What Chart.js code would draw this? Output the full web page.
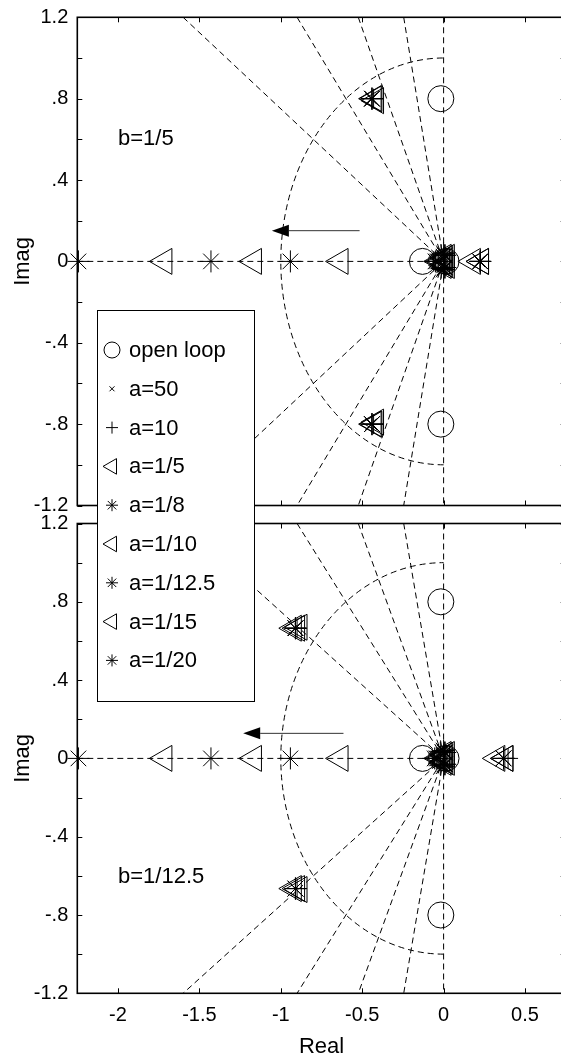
<!DOCTYPE html>
<html>
<head>
<meta charset="utf-8">
<script src="https://cdn.jsdelivr.net/npm/chart.js@4"></script>
<style>
  html, body { margin: 0; padding: 0; background: #fff; overflow: hidden; }
  #wrap { position: relative; width: 561px; height: 1061px; overflow: hidden; }
  .panel { position: absolute; left: 0; width: 570px; }
  #topPanel { top: 0; height: 514px; }
  #bottomPanel { top: 514px; height: 547px; }
  canvas { display: block; }
</style>
</head>
<body>
<div id="wrap">
  <div class="panel" id="topPanel"><canvas id="topChart" width="570" height="514" style="width:570px;height:514px"></canvas></div>
  <div class="panel" id="bottomPanel"><canvas id="bottomChart" width="570" height="547" style="width:570px;height:547px"></canvas></div>
</div>
<script>
// --- DATA ---
const xRange = [-2.25, 0.75];
const yRange = [-1.2, 1.2];
const xTicks = [-2, -1.5, -1, -0.5, 0, 0.5];
const xTickLabels = ['-2', '-1.5', '-1', '-0.5', '0', '0.5'];
const yTicks = [-1.2, -1, -0.8, -0.6, -0.4, -0.2, 0, 0.2, 0.4, 0.6, 0.8, 1, 1.2];
const yTickLabels = ['-1.2', '', '-.8', '', '-.4', '', '0', '', '.4', '', '.8', '', '1.2'];

const seriesNames = ['open loop', 'a=50', 'a=10', 'a=1/5', 'a=1/8', 'a=1/10', 'a=1/12.5', 'a=1/15', 'a=1/20'];

// s-plane grid: damping lines end at imag = +-1.2 at these real parts, wn circle radius 1
const dampingEndX = [-1.6, -0.9, -0.524, -0.245, 0];
const wnRadius = 1;

// top panel, b=1/5   [real, imag]
const topOpenLoop = [[-0.017, 0.8], [-0.017, -0.8], [-0.13, 0], [0.015, 0]];
const topA50   = [[-0.445, 0.80], [-0.445, -0.80], [0.22, 0], [-0.05, 0], [-0.01, 0.03], [-0.01, -0.03]];
const topA10   = [[-0.43, 0.80], [-0.43, -0.80], [0.225, 0], [-0.06, 0], [-0.015, 0.035], [-0.015, -0.035]];
const topA1_5  = [[-0.415, 0.79], [-0.415, -0.79], [0.18, 0], [-0.633, 0], [-0.03, 0], [0.0, 0.02], [0.0, -0.02]];
const topA1_8  = [[-0.44, 0.80], [-0.44, -0.80], [0.225, 0], [-0.941, 0], [-0.04, 0], [0.005, 0.03], [0.005, -0.03]];
const topA1_10 = [[-0.425, 0.80], [-0.425, -0.80], [0.23, 0], [-1.165, 0], [-0.02, 0], [0.01, 0.015], [0.01, -0.015]];
const topA1_12 = [[-0.44, 0.80], [-0.44, -0.80], [0.225, 0], [-1.429, 0], [-0.05, 0], [0.0, 0.04], [0.0, -0.04]];
const topA1_15 = [[-0.43, 0.80], [-0.43, -0.80], [0.23, 0], [-1.715, 0], [-0.01, 0], [0.02, 0.02], [0.02, -0.02]];
const topA1_20 = [[-0.44, 0.80], [-0.44, -0.80], [0.225, 0], [-2.243, 0], [-0.03, 0], [0.01, 0.03], [0.01, -0.03]];

// bottom panel, b=1/12.5
const botOpenLoop = [[-0.017, 0.8], [-0.017, -0.8], [-0.13, 0], [0.015, 0]];
const botA50   = [[-0.91, 0.665], [-0.91, -0.665], [0.37, 0], [-0.06, 0], [-0.01, 0.03], [-0.01, -0.03]];
const botA10   = [[-0.90, 0.665], [-0.90, -0.665], [0.396, 0], [-0.07, 0], [-0.02, 0.035], [-0.02, -0.035]];
const botA1_5  = [[-0.885, 0.67], [-0.885, -0.67], [0.33, 0], [-0.633, 0], [-0.03, 0], [0.0, 0.02], [0.0, -0.02]];
const botA1_8  = [[-0.91, 0.665], [-0.91, -0.665], [0.368, 0], [-0.941, 0], [-0.045, 0], [0.005, 0.03], [0.005, -0.03]];
const botA1_10 = [[-0.90, 0.665], [-0.90, -0.665], [0.38, 0], [-1.165, 0], [-0.02, 0], [0.01, 0.015], [0.01, -0.015]];
const botA1_12 = [[-0.91, 0.665], [-0.91, -0.665], [0.368, 0], [-1.429, 0], [-0.055, 0], [0.0, 0.04], [0.0, -0.04]];
const botA1_15 = [[-0.92, 0.665], [-0.92, -0.665], [0.38, 0], [-1.715, 0], [-0.01, 0], [0.02, 0.02], [0.02, -0.02]];
const botA1_20 = [[-0.91, 0.665], [-0.91, -0.665], [0.368, 0], [-2.243, 0], [-0.035, 0], [0.01, 0.03], [0.01, -0.03]];

// annotations
const topNote = 'b=1/5';
const topNoteAt = [-2.0, 0.6];
const topArrow = [[-0.516, 0.151], [-1.055, 0.151]];
const botNote = 'b=1/12.5';
const botNoteAt = [-2.0, -0.604];
const botArrow = [[-0.615, 0.128], [-1.231, 0.128]];

// --- STYLE ---
const FONT = "'Liberation Sans', Arial, Helvetica, sans-serif";
Chart.defaults.font.family = FONT;
Chart.defaults.color = '#000';

const markerStyles = [
    { style: 'circle',   r: 13, lr: 8 },
    { style: 'crossRot', r: 8,  lr: 3.5 },
    { style: 'cross',    r: 10, lr: 6 },
    { style: 'triangle', r: 15, lr: 9, rot: -90 },
    { style: 'star',     r: 11, lr: 6 },
    { style: 'triangle', r: 15, lr: 9, rot: -90 },
    { style: 'star',     r: 11, lr: 6 },
    { style: 'triangle', r: 15, lr: 9, rot: -90 },
    { style: 'star',     r: 11, lr: 6 }
];
const DASH = [6, 4];

// legend box is in page coordinates, shared by both canvases
const LEGEND = { left: 97.5, top: 310.5, right: 254.5, bottom: 701.5, markerX: 112, textX: 129, rowTop: 350, rowStep: 38.8 };

// --- PLUGINS ---
// pin the plot box to the same place the reference uses
const areaPlugin = {
    id: 'fixedArea',
    afterLayout(chart, args, opts) {
        const ca = chart.chartArea;
        ca.left = opts.left; ca.right = opts.right; ca.top = opts.top; ca.bottom = opts.bottom;
        ca.width = ca.right - ca.left; ca.height = ca.bottom - ca.top;
        const { x, y } = chart.scales;
        x.left = ca.left; x.right = ca.right; x.width = ca.width;
        x.top = ca.bottom; x.bottom = chart.height; x.height = x.bottom - x.top;
        y.left = 0; y.right = ca.left; y.width = ca.left;
        y.top = ca.top; y.bottom = ca.bottom; y.height = ca.height;
        x.configure();
        y.configure();
    }
};

const sgridPlugin = {
    id: 'sgrid',
    beforeDatasetsDraw(chart) {
        const { ctx, chartArea: a, scales: { x, y } } = chart;
        const cx = x.getPixelForValue(0), cy = y.getPixelForValue(0);
        const rx = x.getPixelForValue(wnRadius) - cx;
        const ry = cy - y.getPixelForValue(wnRadius);
        ctx.save();
        ctx.beginPath();
        ctx.rect(a.left, a.top, a.right - a.left, a.bottom - a.top);
        ctx.clip();
        ctx.setLineDash(DASH);
        ctx.lineWidth = 1;
        ctx.strokeStyle = '#000';
        ctx.beginPath();
        ctx.ellipse(cx, cy, rx, ry, 0, Math.PI / 2, Math.PI * 1.5);
        ctx.stroke();
        ctx.restore();
    }
};

const framePlugin = {
    id: 'frame',
    afterDatasetsDraw(chart) {
        const { ctx, chartArea: a, scales: { x, y } } = chart;
        const tl = 5;
        ctx.save();
        ctx.strokeStyle = '#000';
        ctx.lineWidth = 1;
        ctx.beginPath();
        xTicks.forEach(v => {
            const px = Math.round(x.getPixelForValue(v)) + 0.5;
            ctx.moveTo(px, a.bottom); ctx.lineTo(px, a.bottom - tl);
            ctx.moveTo(px, a.top); ctx.lineTo(px, a.top + tl);
        });
        yTicks.forEach(v => {
            const py = Math.round(y.getPixelForValue(v)) + 0.5;
            ctx.moveTo(a.left, py); ctx.lineTo(a.left + tl, py);
            ctx.moveTo(a.right, py); ctx.lineTo(a.right - tl, py);
        });
        ctx.stroke();
        ctx.lineWidth = 1.6;
        ctx.strokeRect(a.left, a.top, a.right - a.left, a.bottom - a.top);
        ctx.restore();
    }
};

const notesPlugin = {
    id: 'notes',
    afterDatasetsDraw(chart, args, opts) {
        const { ctx, scales: { x, y } } = chart;
        ctx.save();
        ctx.fillStyle = '#000';
        ctx.font = '22px ' + FONT;
        ctx.textAlign = 'left';
        ctx.textBaseline = 'middle';
        ctx.fillText(opts.text, x.getPixelForValue(opts.at[0]), y.getPixelForValue(opts.at[1]));

        const [from, to] = opts.arrow;
        const x0 = x.getPixelForValue(from[0]), y0 = y.getPixelForValue(from[1]);
        const x1 = x.getPixelForValue(to[0]), y1 = y.getPixelForValue(to[1]);
        const ang = Math.atan2(y1 - y0, x1 - x0);
        const hl = 17, hw = 6;
        const bx = x1 - Math.cos(ang) * hl, by = y1 - Math.sin(ang) * hl;
        ctx.strokeStyle = '#333';
        ctx.lineWidth = 1;
        ctx.beginPath();
        ctx.moveTo(x0, y0); ctx.lineTo(bx, by);
        ctx.stroke();
        ctx.fillStyle = '#000';
        ctx.beginPath();
        ctx.moveTo(x1, y1);
        ctx.lineTo(bx - Math.sin(ang) * hw, by + Math.cos(ang) * hw);
        ctx.lineTo(bx + Math.sin(ang) * hw, by - Math.cos(ang) * hw);
        ctx.closePath();
        ctx.fill();
        ctx.restore();
    }
};

const legendPlugin = {
    id: 'boxLegend',
    afterDraw(chart, args, opts) {
        const ctx = chart.ctx;
        ctx.save();
        ctx.translate(0, -opts.pageTop);
        ctx.fillStyle = '#fff';
        ctx.fillRect(LEGEND.left, LEGEND.top, LEGEND.right - LEGEND.left, LEGEND.bottom - LEGEND.top);
        ctx.strokeStyle = '#000';
        ctx.lineWidth = 1;
        ctx.strokeRect(LEGEND.left, LEGEND.top, LEGEND.right - LEGEND.left, LEGEND.bottom - LEGEND.top);
        ctx.font = '22px ' + FONT;
        ctx.textAlign = 'left';
        ctx.textBaseline = 'middle';
        seriesNames.forEach((name, i) => {
            const st = markerStyles[i];
            const ry = LEGEND.rowTop + i * LEGEND.rowStep;
            ctx.fillStyle = 'rgba(0,0,0,0)';
            ctx.strokeStyle = '#000';
            ctx.lineWidth = 1;
            Chart.helpers.drawPoint(ctx, { pointStyle: st.style, radius: st.lr, rotation: st.rot || 0, borderWidth: 1 }, LEGEND.markerX, ry);
            ctx.fillStyle = '#000';
            ctx.fillText(name, LEGEND.textX, ry + 1);
        });
        ctx.restore();
    }
};

// --- CHART BUILDERS ---
function gridDatasets() {
    const sets = dampingEndX.map(ex => ({
        type: 'line',
        data: [{ x: ex, y: yRange[1] }, { x: 0, y: 0 }, { x: ex, y: yRange[0] }],
        borderColor: '#000', borderWidth: 1, borderDash: DASH,
        pointRadius: 0, showLine: true, fill: false, tension: 0, order: 10
    }));
    sets.push({
        type: 'line',
        data: [{ x: xRange[0], y: 0 }, { x: 0, y: 0 }],
        borderColor: '#000', borderWidth: 1, borderDash: DASH,
        pointRadius: 0, showLine: true, fill: false, tension: 0, order: 10
    });
    return sets;
}

function markerDatasets(series) {
    return series.map((pts, i) => {
        const st = markerStyles[i];
        return {
            type: 'scatter',
            label: seriesNames[i],
            data: pts.map(p => ({ x: p[0], y: p[1] })),
            pointStyle: st.style,
            pointRadius: st.r,
            pointHoverRadius: st.r,
            pointRotation: st.rot || 0,
            pointBorderColor: '#000',
            pointBackgroundColor: 'rgba(0,0,0,0)',
            pointBorderWidth: 1,
            showLine: false,
            clip: false,
            order: 0
        };
    });
}

function makeChart(canvasId, cfg) {
    return new Chart(document.getElementById(canvasId), {
        type: 'scatter',
        data: { datasets: gridDatasets().concat(markerDatasets(cfg.series)) },
        options: {
            responsive: false,
            maintainAspectRatio: false,
            animation: false,
            events: [],
            layout: { padding: 0 },
            plugins: {
                legend: { display: false },
                tooltip: { enabled: false },
                fixedArea: cfg.area,
                notes: { text: cfg.note, at: cfg.noteAt, arrow: cfg.arrow },
                boxLegend: { pageTop: cfg.pageTop }
            },
            scales: {
                x: {
                    type: 'linear',
                    display: cfg.showX,
                    min: xRange[0], max: xRange[1],
                    afterBuildTicks: s => { s.ticks = xTicks.map(v => ({ value: v })); },
                    grid: { display: false, drawTicks: false },
                    border: { display: false },
                    ticks: {
                        autoSkip: false, maxRotation: 0, padding: 10,
                        font: { size: 20 },
                        callback: (v, i) => xTickLabels[i]
                    },
                    title: { display: true, text: 'Real', font: { size: 22, lineHeight: 1 }, padding: { top: 0, bottom: 3 } }
                },
                y: {
                    type: 'linear',
                    min: yRange[0], max: yRange[1],
                    afterBuildTicks: s => { s.ticks = yTicks.map(v => ({ value: v })); },
                    grid: { display: false, drawTicks: false },
                    border: { display: false },
                    ticks: {
                        autoSkip: false, padding: 9,
                        font: { size: 20 },
                        callback: (v, i) => yTickLabels[i]
                    },
                    title: { display: true, text: 'Imag', font: { size: 22, lineHeight: 1 }, padding: { top: 12, bottom: 0 } }
                }
            }
        },
        plugins: [areaPlugin, sgridPlugin, framePlugin, notesPlugin, legendPlugin]
    });
}

makeChart('topChart', {
    series: [topOpenLoop, topA50, topA10, topA1_5, topA1_8, topA1_10, topA1_12, topA1_15, topA1_20],
    area: { left: 77.3, top: 17.3, right: 565.7, bottom: 505.5 },
    showX: false,
    note: topNote, noteAt: topNoteAt, arrow: topArrow,
    pageTop: 0
});

makeChart('bottomChart', {
    series: [botOpenLoop, botA50, botA10, botA1_5, botA1_8, botA1_10, botA1_12, botA1_15, botA1_20],
    area: { left: 77.3, top: 9.5, right: 565.7, bottom: 479.3 },
    showX: true,
    note: botNote, noteAt: botNoteAt, arrow: botArrow,
    pageTop: 514
});
</script>
</body>
</html>
